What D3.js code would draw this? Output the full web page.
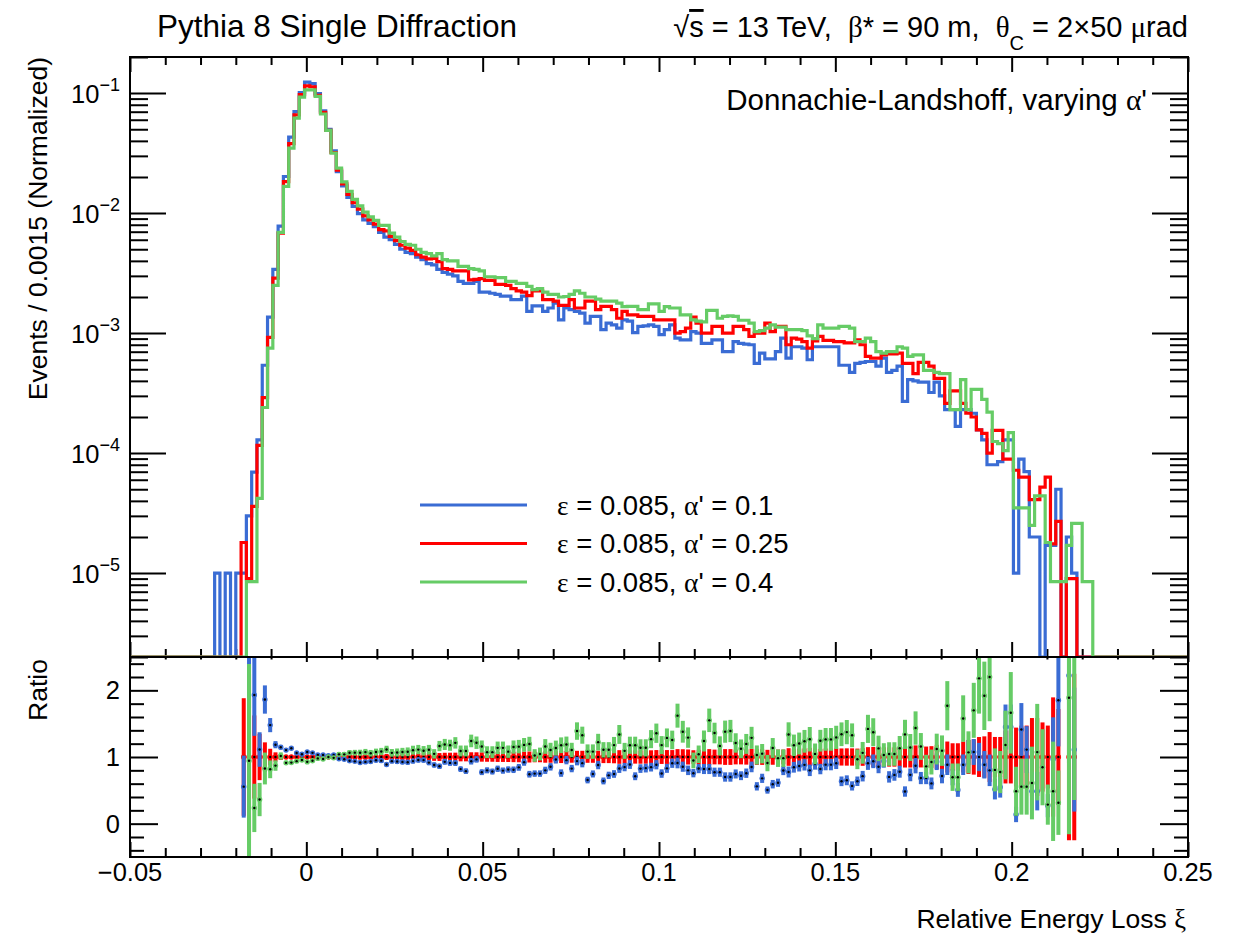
<!DOCTYPE html>
<html><head><meta charset="utf-8">
<script src="https://cdn.jsdelivr.net/npm/d3@7"></script>
<style>
body{margin:0;background:#fff}
text{font-family:"Liberation Sans",Arial,Helvetica,sans-serif;fill:#000}
</style>
</head><body>
<svg id="c" width="1245" height="935"></svg>
<script>
// ---------------- data ----------------
const binWidth = 0.0015;          // Events / 0.0015
const xStart = -0.026;            // left edge of the first listed bin
// normalized contents, one value per bin starting at xStart
const blueValues = [
 1e-5,0,1e-5,0,1e-5,1e-5,3.0e-5,6.95e-5,1.29e-4,5.4e-4,
 1.36e-3,3.4e-3,7.8e-3,2.02e-2,4.3e-2,7.0e-2,0.101,0.1236,0.120,0.099,
 0.071,0.050,0.033,0.0222,0.0169,0.0135,0.0114,0.0099,0.0088,0.0082,
 0.0077,0.0069,0.0063,0.0060,0.0055,0.0050,0.0047,0.0046,0.0043,0.0041,
 0.0038,0.0037,0.0034,0.0032,0.0031,0.0030,0.0027,0.0026,0.0026,0.0027,
 0.0022,0.0022,0.00215,0.0021,0.00203,0.00203,0.0019,0.0019,0.00203,0.00152,
 0.00169,0.00169,0.00152,0.00162,0.00178,0.00129,0.00162,0.00157,0.00152,0.00147,
 0.00121,0.00138,0.00138,0.00107,0.00121,0.00117,0.0011,0.00129,0.00126,0.00101,
 0.00114,0.00115,0.00117,0.00114,0.00097,0.00107,0.00117,0.00091,0.00088,0.00088,
 0.00103,0.001,0.00082,0.00082,0.00088,0.00088,0.0007,0.0007,0.00085,0.00082,
 0.00081,0.0008,0.00056,0.00068,0.00061,0.00061,0.0007,0.00091,0.00062,0.00077,
 0.00077,0.00075,0.0006,0.00077,0.00077,0.00077,0.00077,0.00077,0.00054,0.00054,
 0.00047,0.00056,0.00057,0.00058,0.00058,0.00053,0.00062,0.00047,0.00049,0.00053,
 0.00027,0.00041,0.0004,0.00039,0.00039,0.00032,0.00039,0.0003,0.00023,0.00023,
 0.000167,0.00023,0.00023,0.000215,0.000156,0.000129,0.00008,0.00008,0.000085,0.000129,
 0.000129,0.00001,0.000089,0.00007,0.00002,0.00002,0,0.000017,0.000017,0.00005,
 0,0.00002,0.00001,0,0,0
];
const redValues = [
 0,0,0,0,0,1.8e-5,9e-6,3.6e-5,1.16e-4,2.9e-4,
 9.2e-4,2.87e-3,6.8e-3,1.83e-2,3.8e-2,6.6e-2,0.097,0.115,0.113,0.096,
 0.069,0.049,0.032,0.0228,0.0175,0.0143,0.0122,0.0108,0.0095,0.0088,
 0.0081,0.0073,0.0071,0.0064,0.0059,0.0054,0.0051,0.0049,0.0045,0.0043,
 0.00415,0.0042,0.00395,0.00345,0.0034,0.0033,0.0033,0.0033,0.00278,0.0028,
 0.00285,0.00275,0.00275,0.00255,0.00255,0.0025,0.00235,0.00225,0.0022,0.00205,
 0.00225,0.00225,0.0019,0.0019,0.00185,0.0017,0.0017,0.0019,0.00162,0.00162,
 0.00185,0.00185,0.00157,0.00167,0.00167,0.00157,0.00133,0.00152,0.00142,0.00142,
 0.00138,0.00138,0.00138,0.00129,0.00129,0.00129,0.00129,0.001,0.00103,0.0011,
 0.00136,0.00121,0.001,0.001,0.00114,0.00114,0.001,0.001,0.00114,0.00114,
 0.00107,0.00094,0.001,0.001,0.00121,0.00103,0.00114,0.00114,0.0008,0.00091,
 0.00089,0.00085,0.00075,0.00086,0.00094,0.00087,0.00087,0.00085,0.00085,0.00083,
 0.00083,0.00088,0.0008,0.00064,0.00062,0.00062,0.00066,0.00067,0.00067,0.00068,
 0.00056,0.00056,0.00046,0.00057,0.00057,0.00053,0.00042,0.00042,0.00026,0.00033,
 0.00033,0.00026,0.000215,0.0002,0.000156,0.000146,0.0001,0.000155,0.000155,0.000089,
 0.000089,0.000072,0.000063,0.000063,0.000041,0.000041,0.000052,0.000063,0.0000175,0.000027,
 0,0.000009,0.000009,0,0,0
];
const greenValues = [
 0,0,0,0,0,0,8.5e-6,8.5e-6,4.2e-5,2.4e-4,
 7.5e-4,2.5e-3,6.9e-3,1.67e-2,3.48e-2,6.19e-2,9.26e-2,0.1066,0.1066,0.094,
 0.067,0.049,0.0316,0.0237,0.0182,0.0152,0.013,0.0115,0.0102,0.0093,
 0.0087,0.0079,0.0079,0.0068,0.0063,0.0058,0.0055,0.0054,0.005,0.0047,
 0.0046,0.0044,0.0046,0.0041,0.004,0.004,0.0036,0.0036,0.00345,0.0034,
 0.0033,0.00295,0.00295,0.0029,0.0029,0.0027,0.0027,0.0026,0.0026,0.00245,
 0.0023,0.00235,0.0022,0.0021,0.0021,0.002,0.00202,0.0021,0.00225,0.00215,
 0.002,0.002,0.00192,0.00185,0.00185,0.00185,0.00178,0.00166,0.00167,0.00167,
 0.00157,0.00157,0.00175,0.00175,0.00152,0.00166,0.00162,0.00162,0.00142,0.00142,
 0.00129,0.00126,0.00124,0.00155,0.00155,0.00133,0.00138,0.00139,0.00138,0.00128,
 0.00128,0.00121,0.00103,0.00105,0.0011,0.00117,0.00112,0.00112,0.00107,0.00107,
 0.00107,0.00105,0.00095,0.0009,0.00117,0.0011,0.0011,0.0011,0.00114,0.00114,
 0.0011,0.00085,0.00085,0.00091,0.00085,0.0007,0.00068,0.0007,0.0007,0.00077,
 0.00075,0.00064,0.00066,0.00066,0.00049,0.00049,0.00047,0.00046,0.00046,0.00023,
 0.00023,0.00041,0.00023,0.00034,0.00034,0.00028,0.00022,0.000125,0.00012,0.000105,
 0.000148,0.000035,0.000035,0.000035,0.000025,0.000044,0.000044,0.000018,0.0000085,0.0000085,
 0.0000085,0.000017,0.000026,0.000026,0.0000085,0.0000085
];
// approximate per-event weight of each normalized sample (sets the statistical error bars)
const eventWeightBlue = 7e-6;
const eventWeightRed = 1.4e-5;
const eventWeightGreen = 2e-5;

const seriesNames = ["blue","red","green"];
const legendLabels = [["0.085","0.1"],["0.085","0.25"],["0.085","0.4"]];
const xTicks = [-0.05,0,0.05,0.1,0.15,0.2,0.25];
const xTickLabels = ["\u22120.05","0","0.05","0.1","0.15","0.2","0.25"];
const yDecades = [-5,-4,-3,-2,-1];
const ratioTicks = [0,1,2];
const ratioTickLabels = ["0","1","2"];

// ---------------- layout ----------------
const colors = {blue:"#3a6cd4", red:"#ff0000", green:"#66cc66"};
const L=130, R=1188, T=57, M=657, B=857;
const xMin=-0.05, xMax=0.25, yMin=2e-6, yMax=0.2;
const svg = d3.select("#c");
const x = d3.scaleLinear().domain([xMin,xMax]).range([L,R]);
const y = d3.scaleLog().domain([yMin,yMax]).range([M,T]);
const yr = d3.scaleLinear().domain([-0.5,2.5]).range([B,M]);

const defs = svg.append("defs");
defs.append("clipPath").attr("id","clipTop").append("rect").attr("x",L).attr("y",T).attr("width",R-L).attr("height",M-T);
defs.append("clipPath").attr("id","clipRat").append("rect").attr("x",L).attr("y",M).attr("width",R-L).attr("height",B-M);

const nBins = Math.round((xMax-xMin)/binWidth);
const firstBin = Math.round((xStart-xMin)/binWidth);
function fullBins(arr){
  return d3.range(nBins).map(k=>{const j=k-firstBin; return (j>=0&&j<arr.length)?arr[j]:0;});
}
const hist = {blue:fullBins(blueValues), red:fullBins(redValues), green:fullBins(greenValues)};
const weights = {blue:eventWeightBlue, red:eventWeightRed, green:eventWeightGreen};
const edge = k => xMin + k*binWidth;

// ---------------- axes (ticks) ----------------
const xMinor = d3.range(-5,26).filter(i=>i%5!==0).map(i=>i/100);
const logMajor = yDecades.map(d=>+("1e"+d));
const logMinor = [];
for (let d=-6; d<=-1; d++) for (let m=2;m<=9;m++){const v=+(m+"e"+d); if(v>=yMin&&v<=yMax) logMinor.push(v);}
const ratioMinor = d3.range(-2,13).map(i=>+(i*0.2).toFixed(1)).filter(v=>!ratioTicks.includes(v));

function drawAxis(axis, tx, ty){
  const g = svg.append("g").attr("transform",`translate(${tx},${ty})`).call(axis);
  g.select(".domain").remove();
  g.selectAll("text").remove();
  g.selectAll("line").attr("stroke","#000").attr("stroke-width",2);
  return g;
}
// top pad
drawAxis(d3.axisTop(x).tickValues(xTicks).tickSize(-15),0,T);
drawAxis(d3.axisTop(x).tickValues(xMinor).tickSize(-8),0,T);
drawAxis(d3.axisBottom(x).tickValues(xTicks).tickSize(-15),0,M);
drawAxis(d3.axisBottom(x).tickValues(xMinor).tickSize(-8),0,M);
drawAxis(d3.axisLeft(y).tickValues(logMajor).tickSize(-36),L,0);
drawAxis(d3.axisLeft(y).tickValues(logMinor).tickSize(-18),L,0);
drawAxis(d3.axisRight(y).tickValues(logMajor).tickSize(-36),R,0);
drawAxis(d3.axisRight(y).tickValues(logMinor).tickSize(-18),R,0);
// ratio pad
drawAxis(d3.axisTop(x).tickValues(xTicks).tickSize(-5),0,M);
drawAxis(d3.axisTop(x).tickValues(xMinor).tickSize(-2.5),0,M);
drawAxis(d3.axisBottom(x).tickValues(xTicks).tickSize(-15),0,B);
drawAxis(d3.axisBottom(x).tickValues(xMinor).tickSize(-9),0,B);
drawAxis(d3.axisLeft(yr).tickValues(ratioTicks).tickSize(-28),L,0);
drawAxis(d3.axisLeft(yr).tickValues(ratioMinor).tickSize(-14),L,0);
drawAxis(d3.axisRight(yr).tickValues(ratioTicks).tickSize(-28),R,0);
drawAxis(d3.axisRight(yr).tickValues(ratioMinor).tickSize(-14),R,0);

// ---------------- histograms ----------------
const line = d3.line().x(d=>x(d[0])).y(d=>y(Math.max(d[1],yMin)));
const gTop = svg.append("g").attr("clip-path","url(#clipTop)");
seriesNames.forEach(s=>{
  const pts=[];
  hist[s].forEach((v,k)=>{pts.push([edge(k),v]);pts.push([edge(k+1),v]);});
  gTop.append("path").attr("d",line(pts)).attr("fill","none")
    .attr("stroke",colors[s]).attr("stroke-width",3.2).attr("stroke-linejoin","miter");
});

// ---------------- ratio ----------------
const gRat = svg.append("g").attr("clip-path","url(#clipRat)");
["red","blue","green"].forEach(s=>{
  const pts=[];
  hist[s].forEach((v,k)=>{
    const ref = hist.red[k];
    if (ref<=0 || v<=0) return;
    const r = v/ref;
    const err = r*Math.sqrt(weights[s]/v);
    pts.push({xc:edge(k)+binWidth/2, r, err});
  });
  const g = gRat.append("g");
  g.selectAll("line").data(pts).join("line")
    .attr("x1",d=>x(d.xc)).attr("x2",d=>x(d.xc))
    .attr("y1",d=>yr(d.r-d.err)).attr("y2",d=>yr(d.r+d.err))
    .attr("stroke",colors[s]).attr("stroke-width",4);
  g.selectAll("circle.m").data(pts).join("circle").attr("class","m")
    .attr("cx",d=>x(d.xc)).attr("cy",d=>yr(d.r)).attr("r",2.7).attr("fill",colors[s]);
  g.selectAll("circle.d").data(pts).join("circle").attr("class","d")
    .attr("cx",d=>x(d.xc)).attr("cy",d=>yr(d.r)).attr("r",1.2).attr("fill","#000");
});

// ---------------- frames ----------------
svg.append("rect").attr("x",L).attr("y",T).attr("width",R-L).attr("height",M-T)
  .attr("fill","none").attr("stroke","#000").attr("stroke-width",2);
svg.append("rect").attr("x",L).attr("y",M).attr("width",R-L).attr("height",B-M)
  .attr("fill","none").attr("stroke","#000").attr("stroke-width",2);

// ---------------- tick labels ----------------
const FS = 25.5;
xTicks.forEach((v,i)=>{
  svg.append("text").attr("x",x(v)).attr("y",881).attr("text-anchor","middle")
    .style("font-size",FS+"px").text(xTickLabels[i]);
});
yDecades.forEach(d=>{
  const t = svg.append("text").attr("x",120).attr("y",y(+("1e"+d))+10).attr("text-anchor","end")
    .style("font-size",FS+"px");
  t.append("tspan").text("10");
  t.append("tspan").attr("dy",-12).style("font-size","18px").text("\u2212"+Math.abs(d));
});
ratioTicks.forEach((v,i)=>{
  svg.append("text").attr("x",120).attr("y",yr(v)+9).attr("text-anchor","end")
    .style("font-size",FS+"px").text(ratioTickLabels[i]);
});

// ---------------- titles ----------------
const serif = '"Liberation Serif","DejaVu Serif",serif';
svg.append("text").attr("transform",`translate(47,${T}) rotate(-90)`).attr("text-anchor","end")
  .style("font-size","26.5px").text("Events / 0.0015 (Normalized)");
svg.append("text").attr("transform",`translate(47,${M+2}) rotate(-90)`).attr("text-anchor","end")
  .style("font-size","26.5px").text("Ratio");
const xt = svg.append("text").attr("x",R-2).attr("y",928).attr("text-anchor","end").style("font-size","26.5px");
xt.append("tspan").text("Relative Energy Loss ");
xt.append("tspan").style("font-family",serif).text("\u03be");

svg.append("text").attr("x",157).attr("y",37).style("font-size","31.5px").text("Pythia 8 Single Diffraction");

const hd = svg.append("text").attr("x",R).attr("y",37).attr("text-anchor","end")
  .style("font-size","29px").style("white-space","pre");
hd.append("tspan").text("\u221a");
hd.append("tspan").style("text-decoration","overline").text("s");
hd.append("tspan").text(" = 13 TeV,  ");
hd.append("tspan").style("font-family",serif).text("\u03b2");
hd.append("tspan").text("* = 90 m,  ");
hd.append("tspan").style("font-family",serif).text("\u03b8");
hd.append("tspan").attr("dy",13).style("font-size","20px").text("C");
hd.append("tspan").attr("dy",-13).text(" = 2");
hd.append("tspan").text("\u00d7");
hd.append("tspan").text("50 ");
hd.append("tspan").style("font-family",serif).text("\u03bc");
hd.append("tspan").text("rad");

const an = svg.append("text").attr("x",1147).attr("y",110).attr("text-anchor","end").style("font-size","29.5px");
an.append("tspan").text("Donnachie-Landshoff, varying ");
an.append("tspan").style("font-family",serif).text("\u03b1");
an.append("tspan").text("'");

// ---------------- legend ----------------
seriesNames.forEach((s,i)=>{
  const cy = 505 + i*38.5;
  svg.append("line").attr("x1",420).attr("x2",527).attr("y1",cy).attr("y2",cy)
    .attr("stroke",colors[s]).attr("stroke-width",3.2);
  const t = svg.append("text").attr("x",557).attr("y",cy+9.5).style("font-size","27.5px").style("white-space","pre");
  t.append("tspan").style("font-family",serif).text("\u03b5");
  t.append("tspan").text(" = "+legendLabels[i][0]+", ");
  t.append("tspan").style("font-family",serif).text("\u03b1");
  t.append("tspan").text("' = "+legendLabels[i][1]);
});
</script>
</body></html>
